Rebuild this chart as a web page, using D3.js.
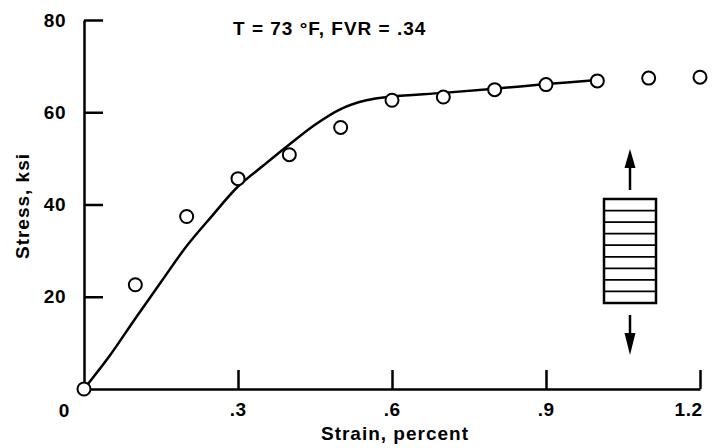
<!DOCTYPE html>
<html>
<head>
<meta charset="utf-8">
<script src="https://cdn.jsdelivr.net/npm/d3@7"></script>
<style>
  body { margin: 0; background: #fff; }
  text { font-family: "Liberation Sans", Arial, sans-serif; font-weight: bold; fill: #000; }
</style>
</head>
<body>
<div id="chart"></div>
<script>
// measured points (circles)
var pointStrain = [0, 0.1, 0.2, 0.3, 0.4, 0.5, 0.6, 0.7, 0.8, 0.9, 1.0, 1.1, 1.2];
var pointStress = [0, 22.6, 37.4, 45.6, 50.8, 56.7, 62.6, 63.3, 64.9, 66.0, 66.8, 67.4, 67.6];

// fitted curve
var curveStrain = [0, 0.05, 0.1, 0.15, 0.2, 0.25, 0.3, 0.35, 0.4, 0.45, 0.5, 0.55, 0.6, 0.7, 0.8, 0.9, 1.0];
var curveStress = [0, 7.2, 15.3, 23.2, 31.0, 37.6, 43.9, 48.5, 53.0, 57.3, 60.7, 62.6, 63.4, 64.2, 65.1, 66.1, 67.0];

// axes
var xTicks = [0.3, 0.6, 0.9, 1.2];
var yTicks = [20, 40, 60, 80];
var title = "T = 73 \u00B0F, FVR = .34";
var xTitle = "Strain, percent";
var yTitle = "Stress, ksi";

let width = 724;
let height = 448;

var svg = d3.select("#chart")
  .append("svg")
    .attr("width", width)
    .attr("height", height);

var x = d3.scaleLinear().domain([0, 1.2]).range([84, 700]);
var y = d3.scaleLinear().domain([0, 80]).range([389, 20]);

var fontSize = "19px";

// y axis, ticks point inward
var yAxis = svg.append("g")
  .attr("transform", "translate(" + x(0) + ",0)")
  .call(d3.axisLeft(y)
    .tickValues(yTicks)
    .tickSizeInner(-19)
    .tickSizeOuter(0)
    .tickPadding(18));

// x axis, ticks point up
var xAxis = svg.append("g")
  .attr("transform", "translate(0," + y(0) + ")")
  .call(d3.axisBottom(x)
    .tickValues(xTicks)
    .tickSizeInner(-19)
    .tickSizeOuter(0)
    .tickPadding(14)
    .tickFormat(function (d) { return d3.format(".1f")(d).replace(/^0/, ""); }));

[yAxis, xAxis].forEach(function (g) {
  g.select(".domain").attr("stroke", "#000").attr("stroke-width", 2.5);
  g.selectAll(".tick line").attr("stroke", "#000").attr("stroke-width", 2.5);
  g.selectAll("text")
    .attr("fill", "#000")
    .style("font-size", fontSize)
    .style("font-family", "'Liberation Sans', Arial, sans-serif")
    .style("font-weight", "bold")
    .style("letter-spacing", "0.5px");
});

// labels sit a bit right of the tick, last one kept inside
xAxis.selectAll(".tick text")
  .attr("text-anchor", "end")
  .attr("x", function (d) { return d >= 1.2 ? 2 : 8; });

// corner zero
svg.append("text")
  .attr("x", 64)
  .attr("y", 417)
  .attr("text-anchor", "middle")
  .style("font-size", fontSize)
  .text("0");

svg.append("text")
  .attr("x", 233)
  .attr("y", 35)
  .style("font-size", fontSize)
  .style("letter-spacing", "1px")
  .text(title);

svg.append("text")
  .attr("x", 395)
  .attr("y", 440)
  .attr("text-anchor", "middle")
  .style("font-size", fontSize)
  .style("letter-spacing", "1px")
  .text(xTitle);

svg.append("text")
  .attr("transform", "translate(29,206) rotate(-90)")
  .attr("text-anchor", "middle")
  .style("font-size", fontSize)
  .style("letter-spacing", "1px")
  .text(yTitle);

// curve
var line = d3.line()
  .x(function (d) { return x(d[0]); })
  .y(function (d) { return y(d[1]); })
  .curve(d3.curveCatmullRom);

svg.append("path")
  .datum(d3.zip(curveStrain, curveStress))
  .attr("d", line)
  .attr("fill", "none")
  .attr("stroke", "#000")
  .attr("stroke-width", 2.5);

// data points
svg.append("g")
  .selectAll("circle")
  .data(d3.zip(pointStrain, pointStress))
  .enter()
  .append("circle")
    .attr("cx", function (d) { return x(d[0]); })
    .attr("cy", function (d) { return y(d[1]); })
    .attr("r", 6.5)
    .attr("fill", "#fff")
    .attr("stroke", "#000")
    .attr("stroke-width", 2);

// specimen sketch with load arrows
var spec = svg.append("g").attr("transform", "translate(630,0)");
var rows = 9;
var rowH = 104 / rows;
spec.append("rect")
  .attr("x", -26)
  .attr("y", 199)
  .attr("width", 52)
  .attr("height", 104)
  .attr("fill", "#fff")
  .attr("stroke", "#000")
  .attr("stroke-width", 2.5);
spec.selectAll(".ply")
  .data(d3.range(1, rows))
  .enter()
  .append("line")
    .attr("class", "ply")
    .attr("x1", -26)
    .attr("x2", 26)
    .attr("y1", function (i) { return 199 + i * rowH; })
    .attr("y2", function (i) { return 199 + i * rowH; })
    .attr("stroke", "#000")
    .attr("stroke-width", 1.8);

// up arrow
spec.append("line")
  .attr("x1", 0).attr("x2", 0)
  .attr("y1", 190).attr("y2", 162)
  .attr("stroke", "#000").attr("stroke-width", 2.5);
spec.append("path")
  .attr("d", "M0,149L-5.5,168L5.5,168Z")
  .attr("fill", "#000");

// down arrow
spec.append("line")
  .attr("x1", 0).attr("x2", 0)
  .attr("y1", 315).attr("y2", 340)
  .attr("stroke", "#000").attr("stroke-width", 2.5);
spec.append("path")
  .attr("d", "M0,355L-5.5,333L5.5,333Z")
  .attr("fill", "#000");
</script>
</body>
</html>
